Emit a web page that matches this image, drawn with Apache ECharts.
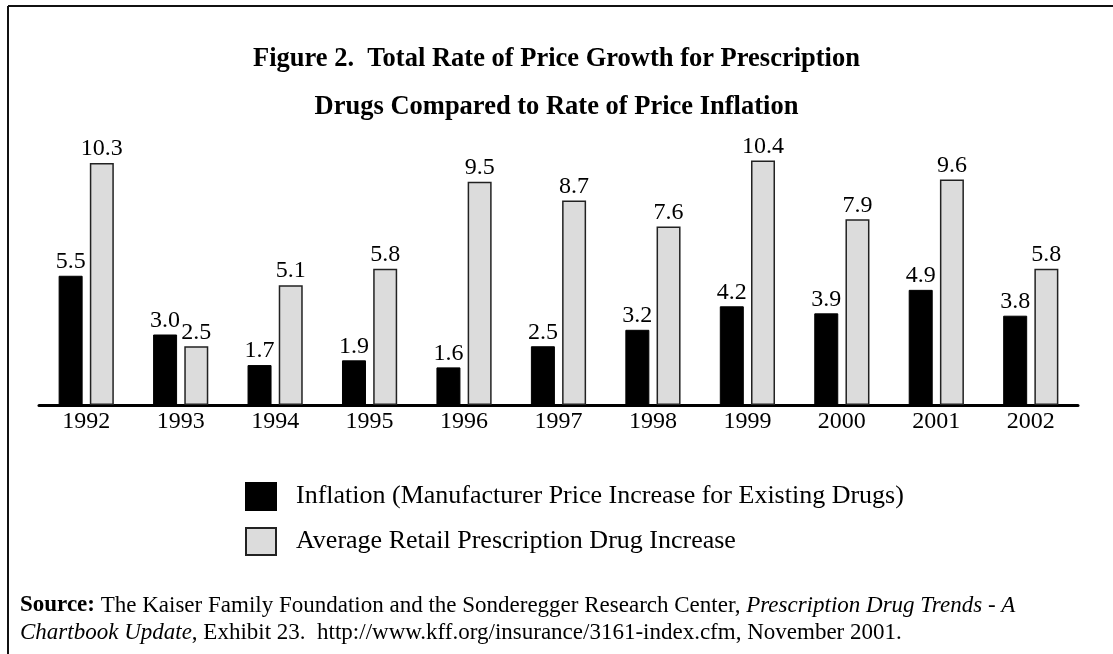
<!DOCTYPE html>
<html>
<head>
<meta charset="utf-8">
<title>Figure 2</title>
<script src="https://cdn.jsdelivr.net/npm/echarts@6/dist/echarts.min.js"></script>
<style>
  html, body { margin: 0; padding: 0; background: #fff; }
  #main { width: 1113px; height: 654px; }
</style>
</head>
<body>
<div id="main"></div>
<script>
// data
var years = ['1992', '1993', '1994', '1995', '1996', '1997', '1998', '1999', '2000', '2001', '2002'];
var inflation = [5.5, 3.0, 1.7, 1.9, 1.6, 2.5, 3.2, 4.2, 3.9, 4.9, 3.8];
var retail = [10.3, 2.5, 5.1, 5.8, 9.5, 8.7, 7.6, 10.4, 7.9, 9.6, 5.8];
var seriesNames = [
  'Inflation (Manufacturer Price Increase for Existing Drugs)',
  'Average Retail Prescription Drug Increase'
];

var serif = '"Liberation Serif", "DejaVu Serif", serif';
var chart = echarts.init(document.getElementById('main'));

var valueLabel = {
  show: true,
  position: 'top',
  distance: 2,
  color: '#000',
  fontSize: 24,
  fontFamily: serif,
  formatter: function (p) { return p.value.toFixed(1); }
};

var option = {
  backgroundColor: '#fff',
  animation: false,
  title: {
    text: 'Figure 2.  Total Rate of Price Growth for Prescription\nDrugs Compared to Rate of Price Inflation',
    left: 'center',
    top: 30,
    textStyle: {
      fontFamily: serif,
      fontWeight: 'bold',
      fontSize: 26.5,
      lineHeight: 48,
      color: '#000'
    }
  },
  legend: {
    orient: 'vertical',
    left: 245,
    top: 482,
    padding: 0,
    itemWidth: 30,
    itemHeight: 27,
    itemGap: 16,
    icon: 'rect',
    textStyle: { fontFamily: serif, fontSize: 26, color: '#000', padding: [0, 0, 0, 15] },
    data: seriesNames
  },
  grid: { left: 39, right: 35, top: 123, bottom: 249 },
  xAxis: {
    type: 'category',
    data: years,
    axisLine: { lineStyle: { color: '#000', width: 3 } },
    axisTick: { show: false },
    axisLabel: { color: '#000', fontSize: 24, fontFamily: serif, margin: 5 }
  },
  yAxis: {
    type: 'value',
    min: 0,
    max: 12,
    show: false,
    splitLine: { show: false }
  },
  series: [
    {
      name: seriesNames[0],
      type: 'bar',
      data: inflation,
      barWidth: 24,
      barGap: '30%',
      itemStyle: { color: '#000', borderColor: '#000', borderWidth: 1 },
      label: valueLabel
    },
    {
      name: seriesNames[1],
      type: 'bar',
      data: retail,
      barWidth: 24,
      itemStyle: { color: '#dcdcdc', borderColor: '#222', borderWidth: 1.5 },
      label: valueLabel
    }
  ],
  graphic: [
    { type: 'line', shape: { x1: 8, y1: 6, x2: 1113, y2: 6 }, style: { stroke: '#111', lineWidth: 2 } },
    { type: 'line', shape: { x1: 8, y1: 6, x2: 8, y2: 654 }, style: { stroke: '#111', lineWidth: 2 } },
    {
      type: 'text',
      left: 20,
      top: 592,
      style: {
        text: '{b|Source:} The Kaiser Family Foundation and the Sonderegger Research Center, {i|Prescription Drug Trends - A}\n{i|Chartbook Update}, Exhibit 23.  http://www.kff.org/insurance/3161-index.cfm, November 2001.',
        fontFamily: serif,
        fontSize: 23,
        lineHeight: 27,
        fill: '#000',
        rich: {
          b: { fontFamily: serif, fontSize: 23, fontWeight: 'bold', lineHeight: 27 },
          i: { fontFamily: serif, fontSize: 23, fontStyle: 'italic', lineHeight: 27 }
        }
      }
    }
  ]
};

chart.setOption(option);
</script>
</body>
</html>
